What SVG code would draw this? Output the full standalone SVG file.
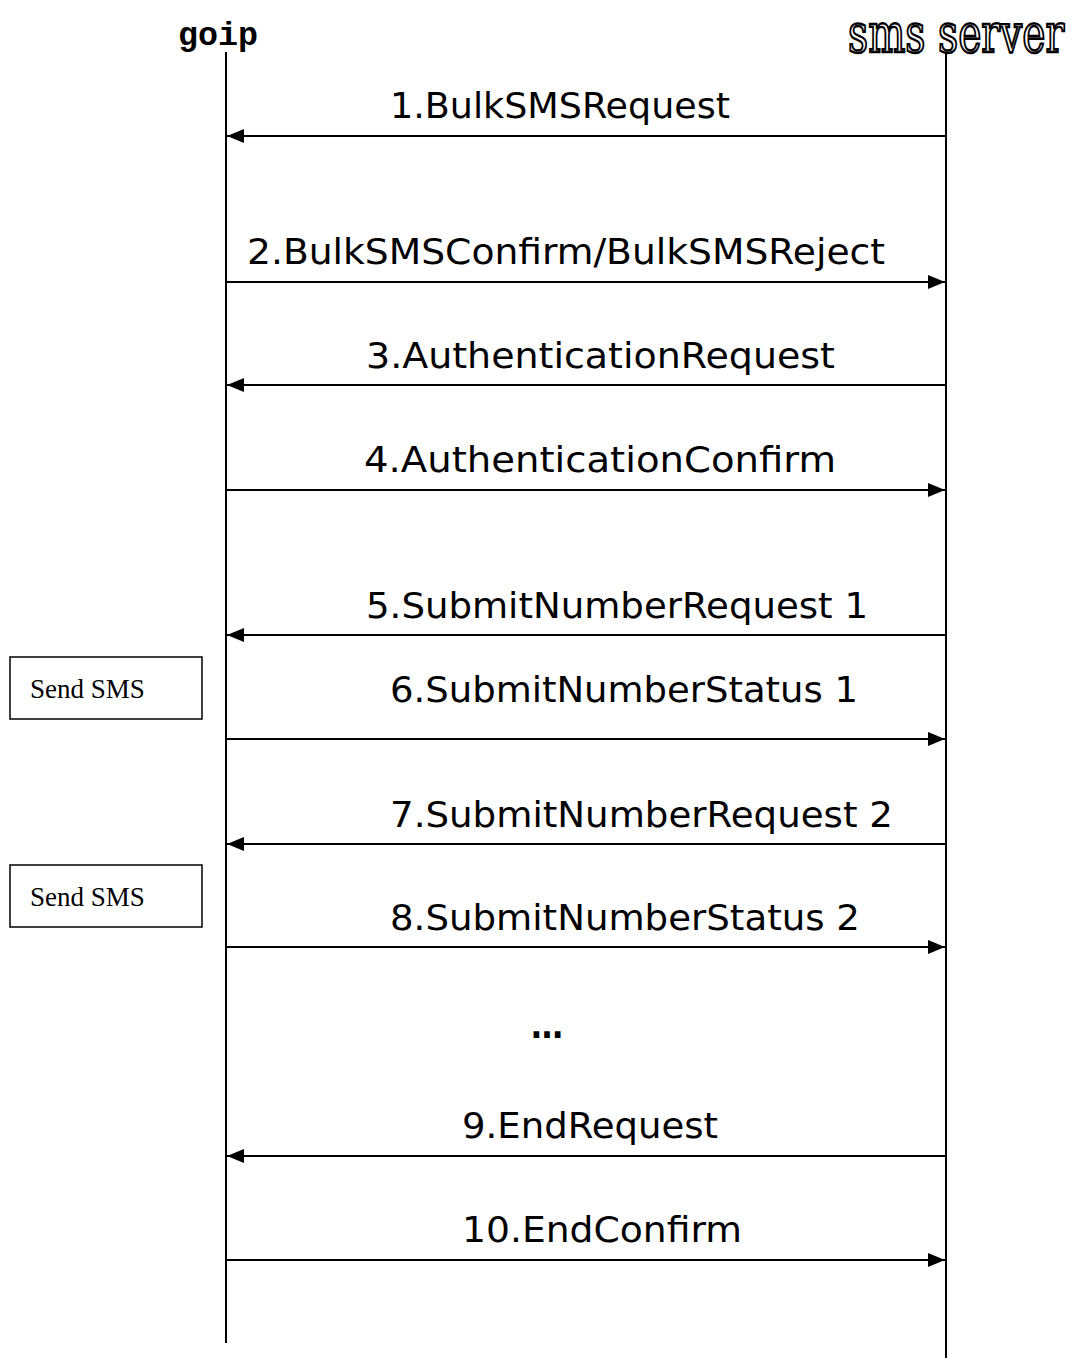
<svg xmlns="http://www.w3.org/2000/svg" width="1077" height="1358" viewBox="0 0 1077 1358">
<style>
.lbl{font-family:"DejaVu Sans",Verdana,sans-serif;font-size:36px;fill:#000}
.msg{stroke:#000;stroke-width:2.2;fill:none}
.life{stroke:#000;stroke-width:2}
.box{fill:#fff;stroke:#000;stroke-width:1.5}
.boxt{font-family:"Liberation Serif","Times New Roman",serif;font-size:27px;fill:#000}
</style>
<defs>
<marker id="ah" markerWidth="18" markerHeight="16" refX="17" refY="8" orient="auto" markerUnits="userSpaceOnUse">
<path d="M0,1 L17,8 L0,15 Z" fill="#000"/>
</marker>
</defs>
<rect width="1077" height="1358" fill="#fff"/>
<g id="goip">
<text x="178" y="45" font-family="'Liberation Mono','Courier New',monospace" font-weight="bold" font-size="34" textLength="80" lengthAdjust="spacingAndGlyphs">goip</text>
<line class="life" x1="226" y1="52" x2="226" y2="1343"/>
</g>
<g id="sms-server">
<text transform="translate(848,52) scale(0.714,1)" x="0" y="0" font-family="'DejaVu Serif','Liberation Serif',serif" font-size="55" fill="#fff" stroke="#000" stroke-width="2.4">sms server</text>
<line class="life" x1="946" y1="52" x2="946" y2="1358"/>
</g>
<g id="send-sms-1">
<rect class="box" x="10" y="657" width="192" height="62"/>
<text class="boxt" x="30" y="698">Send SMS</text>
</g>
<g id="send-sms-2">
<rect class="box" x="10" y="865" width="192" height="62"/>
<text class="boxt" x="30" y="906">Send SMS</text>
</g>
<g id="connectors">
<line class="msg" x1="946" y1="136" x2="227" y2="136" marker-end="url(#ah)"/>
<line class="msg" x1="226" y1="282" x2="945" y2="282" marker-end="url(#ah)"/>
<line class="msg" x1="946" y1="385" x2="227" y2="385" marker-end="url(#ah)"/>
<line class="msg" x1="226" y1="490" x2="945" y2="490" marker-end="url(#ah)"/>
<line class="msg" x1="946" y1="635" x2="227" y2="635" marker-end="url(#ah)"/>
<line class="msg" x1="226" y1="739" x2="945" y2="739" marker-end="url(#ah)"/>
<line class="msg" x1="946" y1="844" x2="227" y2="844" marker-end="url(#ah)"/>
<line class="msg" x1="226" y1="947" x2="945" y2="947" marker-end="url(#ah)"/>
<line class="msg" x1="946" y1="1156" x2="227" y2="1156" marker-end="url(#ah)"/>
<line class="msg" x1="226" y1="1260" x2="945" y2="1260" marker-end="url(#ah)"/>
</g>
<g id="labels">
<text class="lbl" x="390" y="118" textLength="340" lengthAdjust="spacingAndGlyphs">1.BulkSMSRequest</text>
<text class="lbl" x="247" y="264" textLength="638" lengthAdjust="spacingAndGlyphs">2.BulkSMSConfirm/BulkSMSReject</text>
<text class="lbl" x="366" y="368" textLength="469" lengthAdjust="spacingAndGlyphs">3.AuthenticationRequest</text>
<text class="lbl" x="364" y="472" textLength="472" lengthAdjust="spacingAndGlyphs">4.AuthenticationConfirm</text>
<text class="lbl" x="366" y="618" textLength="502" lengthAdjust="spacingAndGlyphs">5.SubmitNumberRequest 1</text>
<text class="lbl" x="390" y="702" textLength="468" lengthAdjust="spacingAndGlyphs">6.SubmitNumberStatus 1</text>
<text class="lbl" x="390" y="827" textLength="503" lengthAdjust="spacingAndGlyphs">7.SubmitNumberRequest 2</text>
<text class="lbl" x="390" y="930" textLength="470" lengthAdjust="spacingAndGlyphs">8.SubmitNumberStatus 2</text>
<text class="lbl" x="531" y="1038" font-weight="bold" textLength="32" lengthAdjust="spacingAndGlyphs">…</text>
<text class="lbl" x="462" y="1138" textLength="256" lengthAdjust="spacingAndGlyphs">9.EndRequest</text>
<text class="lbl" x="462" y="1242" textLength="280" lengthAdjust="spacingAndGlyphs">10.EndConfirm</text>
</g>
</svg>
